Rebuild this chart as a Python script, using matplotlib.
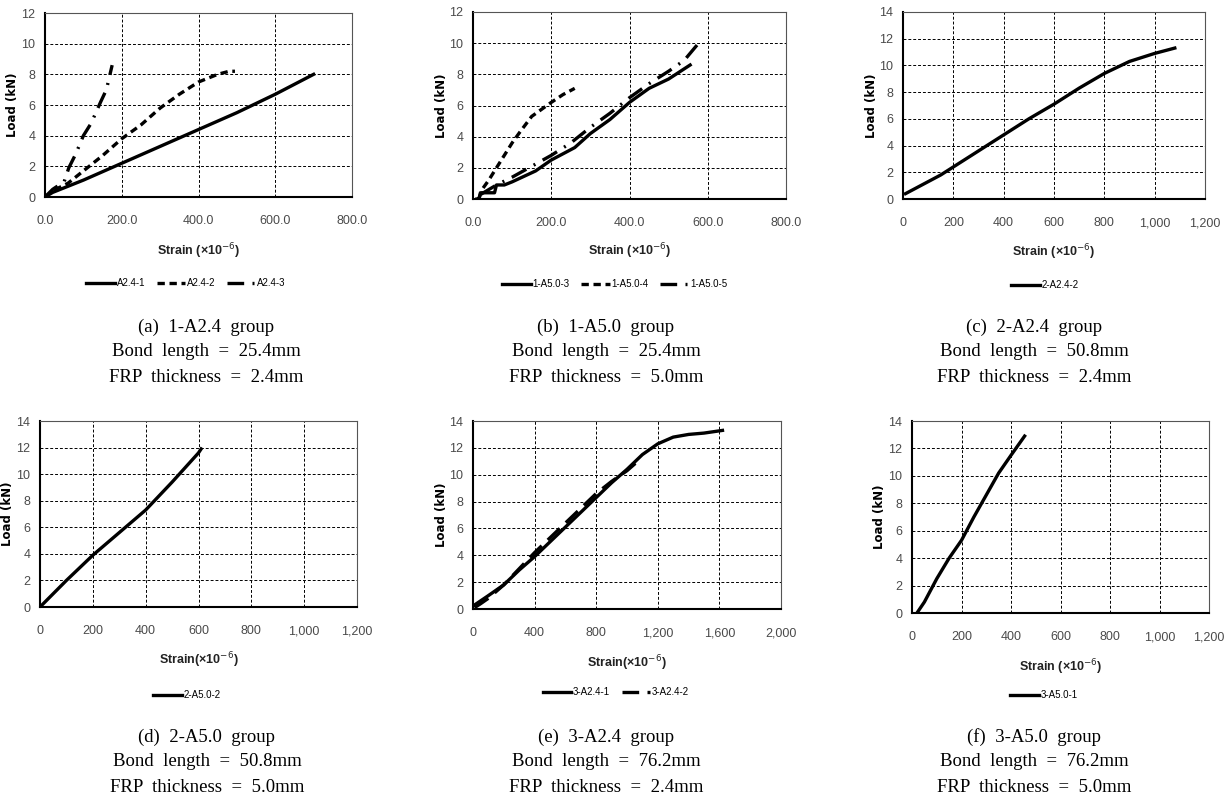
import matplotlib
matplotlib.use("Agg")
import matplotlib.pyplot as plt
from matplotlib.ticker import FuncFormatter, MultipleLocator

# ---- data (strain x10^-6, load kN) ----
a1_x = [0, 20, 100, 200, 300, 400, 500, 600, 700]
a1_y = [0, 0.3, 1.1, 2.2, 3.3, 4.4, 5.5, 6.7, 8.0]
a2_x = [0, 20, 60, 100, 150, 200, 250, 300, 350, 400, 450, 480, 495]
a2_y = [0, 0.4, 0.9, 1.7, 2.7, 3.8, 4.7, 5.8, 6.7, 7.5, 8.0, 8.2, 8.2]
a3_x = [0, 20, 50, 62, 80, 100, 120, 145, 160, 175]
a3_y = [0, 0.5, 1.0, 1.9, 2.8, 4.0, 4.8, 6.2, 7.0, 8.6]

b3_x = [10, 15, 20, 30, 55, 60, 80, 100, 160, 200, 260, 300, 350, 400, 450, 500, 555]
b3_y = [0, 0, 0.4, 0.4, 0.4, 0.9, 0.9, 1.1, 1.8, 2.5, 3.3, 4.2, 5.1, 6.2, 7.1, 7.7, 8.6]
b4_x = [15, 20, 40, 60, 80, 100, 120, 150, 200, 230, 260]
b4_y = [0, 0.5, 1.2, 2.0, 2.8, 3.6, 4.3, 5.3, 6.2, 6.7, 7.1]
b5_x = [20, 60, 100, 150, 200, 250, 300, 350, 400, 450, 500, 540, 580]
b5_y = [0.3, 0.9, 1.4, 2.1, 2.8, 3.6, 4.6, 5.5, 6.5, 7.4, 8.2, 8.9, 10.1]

c2_x = [10, 150, 200, 300, 400, 500, 600, 700, 800, 900, 1000, 1080]
c2_y = [0.4, 1.8, 2.4, 3.6, 4.8, 6.0, 7.1, 8.3, 9.4, 10.3, 10.9, 11.3]

d2_x = [5, 100, 200, 300, 400, 500, 600, 610]
d2_y = [0.1, 2.0, 3.9, 5.6, 7.3, 9.4, 11.6, 11.9]

e1_x = [10, 100, 200, 300, 400, 500, 600, 700, 800, 900, 1000, 1100, 1200, 1300, 1400, 1500, 1620]
e1_y = [0.3, 1.0, 1.8, 2.9, 3.9, 5.0, 6.1, 7.2, 8.3, 9.4, 10.4, 11.5, 12.3, 12.8, 13.0, 13.1, 13.3]
e2_x = [10, 50, 100, 200, 300, 400, 500, 600, 700, 800, 900, 1000, 1050, 1090]
e2_y = [0.1, 0.4, 0.8, 1.8, 3.0, 4.2, 5.3, 6.4, 7.5, 8.6, 9.5, 10.3, 10.8, 11.1]

f1_x = [20, 50, 100, 150, 200, 250, 300, 350, 400, 455]
f1_y = [0, 0.8, 2.5, 4.0, 5.3, 7.0, 8.6, 10.2, 11.5, 12.9]

captions = [
    ["(a)  1-A2.4  group", "Bond  length  =  25.4mm", "FRP  thickness  =  2.4mm"],
    ["(b)  1-A5.0  group", "Bond  length  =  25.4mm", "FRP  thickness  =  5.0mm"],
    ["(c)  2-A2.4  group", "Bond  length  =  50.8mm", "FRP  thickness  =  2.4mm"],
    ["(d)  2-A5.0  group", "Bond  length  =  50.8mm", "FRP  thickness  =  5.0mm"],
    ["(e)  3-A2.4  group", "Bond  length  =  76.2mm", "FRP  thickness  =  2.4mm"],
    ["(f)  3-A5.0  group", "Bond  length  =  76.2mm", "FRP  thickness  =  5.0mm"],
]

W, H = 1229, 810
fig = plt.figure(figsize=(W / 100, H / 100), dpi=100)
SANS = ["Liberation Sans Narrow", "Liberation Sans", "DejaVu Sans"]
TICKC = "#4a4a4a"

SOLID = dict(ls="-")
DASH = dict(ls=(0, (2.2, 1.4)))
LDASH = dict(ls=(0, (5, 2.5)))
DASHDOT = dict(ls=(0, (5, 2.5, 0.6, 2.5)))


def make_ax(l, t, r, b, xmax, xstep, ymax, fmt, xlab, lab_y, leg_x, leg_y):
    ax = fig.add_axes([l / W, 1 - b / H, (r - l) / W, (b - t) / H])
    ax.set_xlim(0, xmax)
    ax.set_ylim(0, ymax)
    ax.xaxis.set_major_locator(MultipleLocator(xstep))
    ax.yaxis.set_major_locator(MultipleLocator(2))
    ax.xaxis.set_major_formatter(FuncFormatter(fmt))
    ax.grid(True, color="black", ls=(0, (3, 2)), lw=0.7)
    ax.set_axisbelow(True)
    for s in ["top", "right"]:
        ax.spines[s].set_color("#555555")
        ax.spines[s].set_linewidth(0.8)
    for s in ["left", "bottom"]:
        ax.spines[s].set_linewidth(1.5)
    ax.tick_params(length=0, labelsize=9, labelcolor=TICKC)
    ax.tick_params(axis="x", pad=13)
    ax.tick_params(axis="y", pad=7)
    for lbl in ax.get_xticklabels() + ax.get_yticklabels():
        lbl.set_family(SANS)
    ax.set_ylabel("Load (kN)", fontsize=8.5, fontweight="bold", family=["DejaVu Sans"])
    ax.yaxis.set_label_coords(-32 / (r - l), 0.5)
    ax.yaxis.label.set_va("center")
    ax.set_xlabel(xlab, fontsize=9, fontweight="bold", family=SANS, color="#222222")
    ax.xaxis.set_label_coords(0.5, -(lab_y - b) / (b - t))
    ax.xaxis.label.set_va("center")
    ax._leg_anchor = ((leg_x - l) / (r - l), -(leg_y - b) / (b - t))
    return ax


def add_legend(ax):
    ax.legend(loc="center", bbox_to_anchor=ax._leg_anchor, ncol=3, frameon=False,
              prop={"family": SANS, "size": 7}, handlelength=2.9,
              handletextpad=0.2, columnspacing=1.2)


fmt1 = lambda v, p: f"{v:.1f}"
fmt0 = lambda v, p: f"{v:,.0f}"
lab_sp = r"Strain (×10$^{-6}$)"
lab_ns = r"Strain(×10$^{-6}$)"
LW = 2.4

# (a)
ax = make_ax(45, 13, 352, 197, 800, 200, 12, fmt1, lab_sp, 251, 186, 283)
ax.plot(a1_x, a1_y, color="black", lw=LW, label="A2.4-1", **SOLID)
ax.plot(a2_x, a2_y, color="black", lw=LW, label="A2.4-2", **DASH)
ax.plot(a3_x, a3_y, color="black", lw=LW, label="A2.4-3", **DASHDOT)
add_legend(ax)

# (b)
ax = make_ax(473, 12, 786, 199, 800, 200, 12, fmt1, lab_sp, 251, 615, 284)
ax.plot(b3_x, b3_y, color="black", lw=LW, label="1-A5.0-3", **SOLID)
ax.plot(b4_x, b4_y, color="black", lw=LW, label="1-A5.0-4", **DASH)
ax.plot(b5_x, b5_y, color="black", lw=LW, label="1-A5.0-5", **DASHDOT)
add_legend(ax)

# (c)
ax = make_ax(903, 12, 1205, 199, 1200, 200, 14, fmt0, lab_sp, 252, 1045, 285)
ax.plot(c2_x, c2_y, color="black", lw=LW, label="2-A2.4-2", **SOLID)
add_legend(ax)

# (d)
ax = make_ax(40, 421, 357, 607, 1200, 200, 14, fmt0, lab_ns, 660, 187, 695)
ax.plot(d2_x, d2_y, color="black", lw=LW, label="2-A5.0-2", **SOLID)
add_legend(ax)

# (e)
ax = make_ax(473, 421, 781, 609, 2000, 400, 14, fmt0, lab_ns, 663, 616, 692)
ax.plot(e1_x, e1_y, color="black", lw=LW, label="3-A2.4-1", **SOLID)
ax.plot(e2_x, e2_y, color="black", lw=LW, label="3-A2.4-2", **LDASH)
add_legend(ax)

# (f)
ax = make_ax(912, 421, 1209, 613, 1200, 200, 14, fmt0, lab_sp, 667, 1044, 695)
ax.plot(f1_x, f1_y, color="black", lw=LW, label="3-A5.0-1", **SOLID)
add_legend(ax)

# captions
cap_x = [206, 606, 1034, 207, 606, 1034]
cap_top = [327, 327, 327, 737, 737, 737]
for cx, cy, lines in zip(cap_x, cap_top, captions):
    for i, txt in enumerate(lines):
        fig.text(cx / W, 1 - (cy + 25 * i) / H, txt, ha="center", va="center",
                 fontsize=13.5, family=["Liberation Serif", "DejaVu Serif"])

fig.savefig("out.png", dpi=100)
